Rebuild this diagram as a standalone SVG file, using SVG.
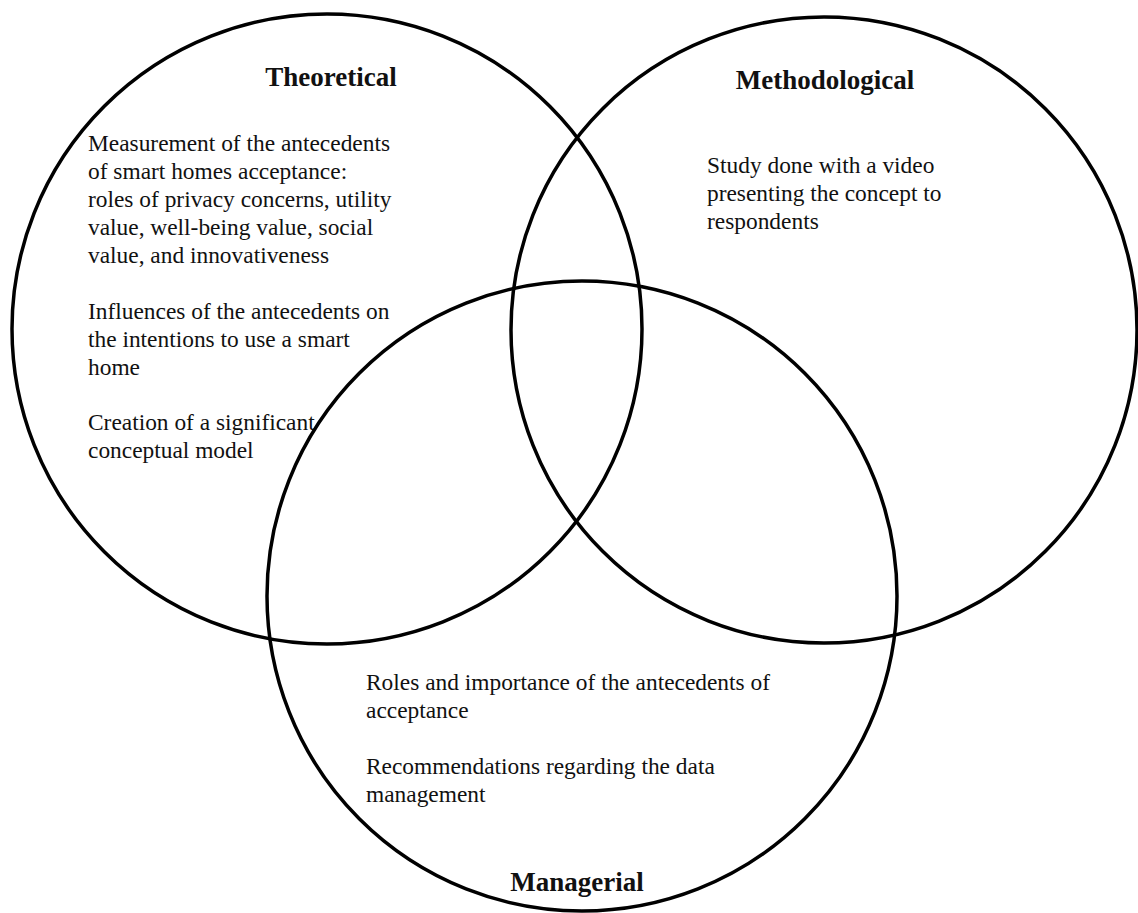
<svg xmlns="http://www.w3.org/2000/svg" width="1138" height="913" viewBox="0 0 1138 913">
  <style>
    .ring { fill: none; stroke: #000; stroke-width: 3.5; }
    .title { font-family: "Liberation Serif", "Times New Roman", serif; font-size: 27px; font-weight: bold; fill: #111; text-anchor: middle; }
    .body { font-family: "Liberation Serif", "Times New Roman", serif; font-size: 23.4px; fill: #111; }
  </style>
  <rect width="1138" height="913" fill="#fff"/>
  <g id="theoretical">
    <circle class="ring" cx="327" cy="329" r="315"/>
    <text class="title" x="331" y="86">Theoretical</text>
    <text class="body">
      <tspan x="88" y="151">Measurement of the antecedents</tspan>
      <tspan x="88" y="179">of smart homes acceptance:</tspan>
      <tspan x="88" y="207">roles of privacy concerns, utility</tspan>
      <tspan x="88" y="235">value, well-being value, social</tspan>
      <tspan x="88" y="263">value, and innovativeness</tspan>
      <tspan x="88" y="319">Influences of the antecedents on</tspan>
      <tspan x="88" y="347">the intentions to use a smart</tspan>
      <tspan x="88" y="375">home</tspan>
      <tspan x="88" y="430">Creation of a significant</tspan>
      <tspan x="88" y="458">conceptual model</tspan>
    </text>
  </g>
  <g id="methodological">
    <circle class="ring" cx="824" cy="330" r="313"/>
    <text class="title" x="825" y="89">Methodological</text>
    <text class="body">
      <tspan x="707" y="173">Study done with a video</tspan>
      <tspan x="707" y="201">presenting the concept to</tspan>
      <tspan x="707" y="229">respondents</tspan>
    </text>
  </g>
  <g id="managerial">
    <circle class="ring" cx="582" cy="596" r="315"/>
    <text class="title" x="577" y="891">Managerial</text>
    <text class="body">
      <tspan x="366" y="690">Roles and importance of the antecedents of</tspan>
      <tspan x="366" y="718">acceptance</tspan>
      <tspan x="366" y="774">Recommendations regarding the data</tspan>
      <tspan x="366" y="802">management</tspan>
    </text>
  </g>
  <g id="connectors"/>
</svg>
